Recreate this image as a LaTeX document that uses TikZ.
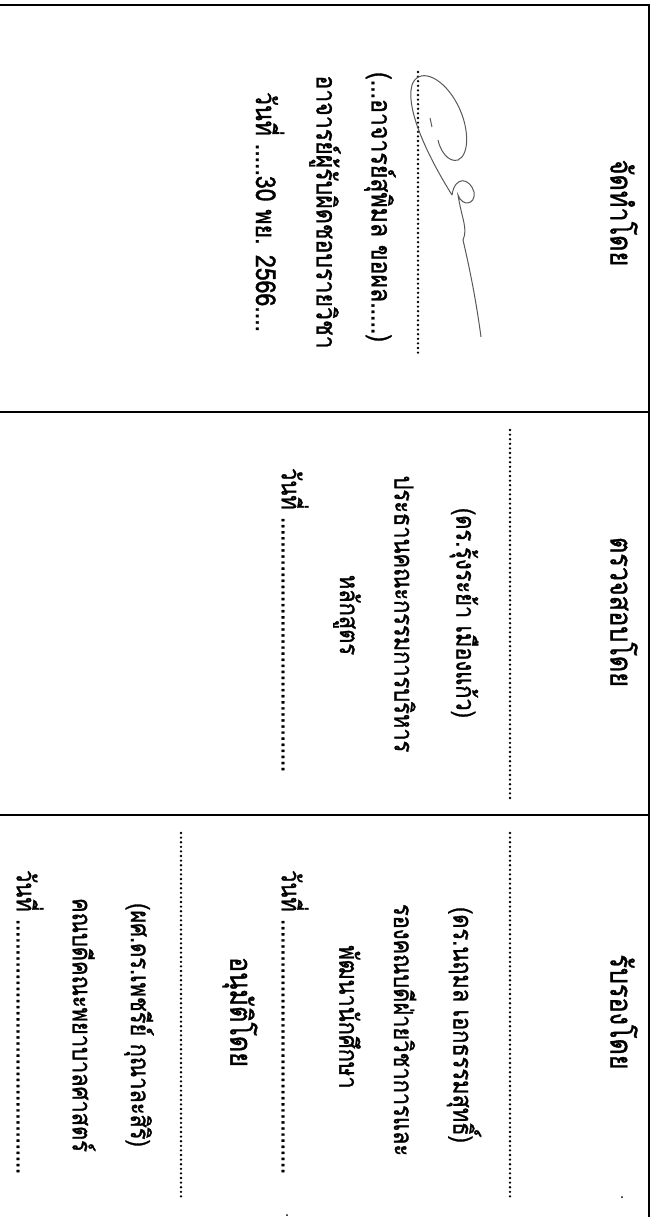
\documentclass[tikz,border=0pt]{standalone}
\usepackage{fontspec}
\newfontfamily\thaifont[Script=Thai, FakeStretch=0.84, FakeBold=1.2]{Loma}
\begin{document}
\begin{tikzpicture}[x=1pt,y=-1pt,
  txt/.style={rotate=-90, font=\thaifont\fontsize{26}{30}\selectfont, inner sep=0pt, anchor=center},
  bigtxt/.style={txt, font=\thaifont\fontsize{27.5}{32}\selectfont},
  head/.style={txt, font=\thaifont\fontsize{30}{34}\selectfont},
  frame/.style={line width=1.6pt},
  dotline/.style={line width=2.6pt, dash pattern=on 0pt off 4.6pt, line cap=round},
  sig/.style={line width=1pt, color=black!65},
  speck/.style={fill=black, inner sep=0pt, minimum size=2pt, circle}]
\useasboundingbox (0,0) rectangle (655,1217);
% frame
\coordinate (tl) at (0,5);
\coordinate (tr) at (649,5);
\coordinate (br) at (649,1217);
\coordinate (d1l) at (0,412);
\coordinate (d1r) at (649,412);
\coordinate (d2l) at (0,815);
\coordinate (d2r) at (649,815);
\draw[frame] (tl) -- (tr) -- (br);
\draw[frame] (d1l) -- (d1r);
\draw[frame] (d2l) -- (d2r);

% ---- section 1
\node[head] (h1) at (624,213) {จัดทำโดย};
\coordinate (s1a) at (418,72);
\coordinate (s1b) at (418,354);
\draw[dotline] (s1a) -- (s1b);
\node[bigtxt] (n1) at (380,207) {(...อาจารย์สุพิมล ขอผล.....)};
\node[bigtxt] (p1) at (325,212) {อาจารย์ผู้รับผิดชอบรายวิชา};
\node[bigtxt] (d1) at (270,212) {วันที่ .....30 พย. 2566....};
% signature
\draw[sig] (452,195) .. controls (430,160) and (405,110) .. (412,85)
  .. controls (418,68) and (440,75) .. (455,100)
  .. controls (470,125) and (470,155) .. (458,160)
  .. controls (448,163) and (440,150) .. (438,140);
\draw[sig] (452,195) .. controls (455,175) and (470,178) .. (474,192)
  .. controls (476,205) and (462,207) .. (458,195)
  .. controls (462,220) and (468,228) .. (463,240)
  .. controls (470,270) and (476,300) .. (481,337);
\draw[sig] (430,118) -- (432,127);

% ---- section 2
\node[head] (h2) at (624,612) {ตรวจสอบโดย};
\coordinate (s2a) at (510,430);
\coordinate (s2b) at (510,800);
\draw[dotline] (s2a) -- (s2b);
\node[txt] (n2) at (464,613) {(ดร.รุ้งระย้า เมืองแก้ว)};
\node[txt] (p2) at (405,614) {ประธานคณะกรรมการบริหาร};
\node[txt] (q2) at (347,615) {หลักสูตร};
\node[txt] (d2) at (295,620) {วันที่ ..........................................};

% ---- section 3
\node[head] (h3) at (624,1012) {รับรองโดย};
\coordinate (s3a) at (510,833);
\coordinate (s3b) at (510,1200);
\draw[dotline] (s3a) -- (s3b);
\node[txt] (n3) at (464,1025) {(ดร.นฤมล เอกธรรมสุทธิ์)};
\node[txt] (p3) at (405,1030) {รองคณบดีฝ่ายวิชาการและ};
\node[txt] (q3) at (350,1017) {พัฒนานักศึกษา};
\node[txt] (d3) at (295,1022) {วันที่ ..........................................};
\node[head] (h4) at (240,1012) {อนุมัติโดย};
\coordinate (s4a) at (181,833);
\coordinate (s4b) at (181,1200);
\draw[dotline] (s4a) -- (s4b);
\node[txt] (n4) at (139,1025) {(ผศ.ดร.เพชรีย์ กุณาละสิริ)};
\node[txt] (p4) at (84,1025) {คณบดีคณะพยาบาลศาสตร์};
\node[txt] (d4) at (30,1022) {วันที่ ..........................................};

% specks
\node[speck] (k1) at (622,1197) {};
\node[speck] (k2) at (287,1215) {};
\end{tikzpicture}
\end{document}
